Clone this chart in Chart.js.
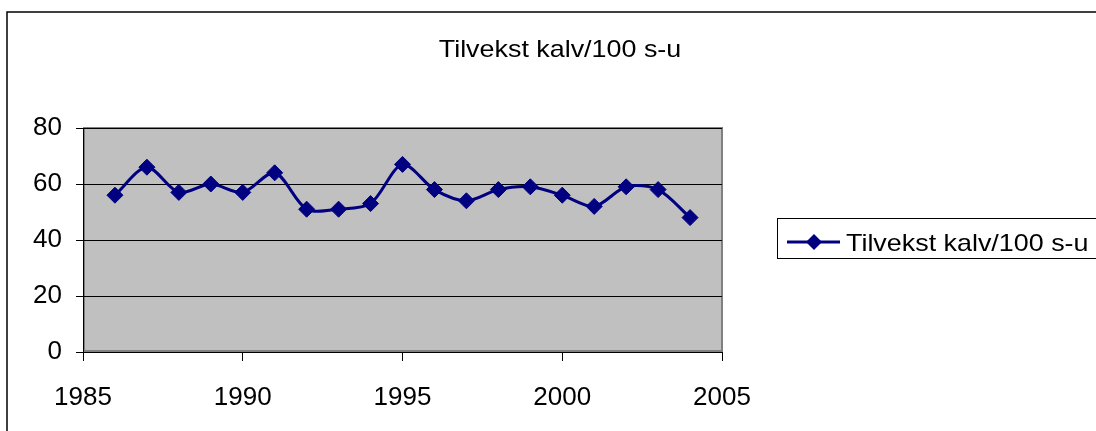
<!DOCTYPE html>
<html>
<head>
<meta charset="utf-8">
<script src="https://cdn.jsdelivr.net/npm/chart.js@4.4.1/dist/chart.umd.min.js"></script>
<style>
  html, body { margin: 0; padding: 0; background: #fff; }
  #kalv { display: block; }
</style>
</head>
<body>
<canvas id="kalv" width="1096" height="431"></canvas>
<script>
const years = [1986, 1987, 1988, 1989, 1990, 1991, 1992, 1993, 1994, 1995,
               1996, 1997, 1998, 1999, 2000, 2001, 2002, 2003, 2004]
const tilvekst = [56, 66, 57, 60, 57, 64, 51, 51, 53, 67,
                  58, 54, 58, 59, 56, 52, 59, 58, 48]
const seriesName = "Tilvekst kalv/100 s-u"
const chartTitle = "Tilvekst kalv/100 s-u"

const fontFam = "'Liberation Sans', Arial, sans-serif"
const navy = "#000080"

// excel-ish frame, grey plot area, title + boxed legend
const excelBits = {
  id: "excelBits",
  beforeDraw(chart) {
    const ctx = chart.ctx
    const a = chart.chartArea
    ctx.save()
    ctx.strokeStyle = "#000"
    ctx.lineWidth = 1.5
    ctx.strokeRect(7, 12, 1200, 600)
    ctx.fillStyle = "#c0c0c0"
    ctx.fillRect(a.left, a.top, a.right - a.left, a.bottom - a.top)
    ctx.strokeStyle = "#808080"
    ctx.lineWidth = 2
    ctx.strokeRect(a.left + 1, a.top, a.right - a.left - 1, a.bottom - a.top - 1)
    ctx.restore()
  },
  afterDraw(chart) {
    const ctx = chart.ctx
    ctx.save()
    ctx.fillStyle = "#000"
    ctx.font = "24px " + fontFam
    ctx.textBaseline = "alphabetic"
    // title (source picture is stretched sideways a bit)
    ctx.save()
    ctx.translate(560, 57)
    ctx.scale(1.12, 1)
    ctx.textAlign = "center"
    ctx.fillText(chartTitle, 0, 0)
    ctx.restore()

    // legend box
    ctx.strokeStyle = "#000"
    ctx.lineWidth = 1
    ctx.strokeRect(777.5, 218.5, 400, 40)
    ctx.strokeStyle = navy
    ctx.lineWidth = 3
    ctx.beginPath()
    ctx.moveTo(787, 242)
    ctx.lineTo(840, 242)
    ctx.stroke()
    ctx.fillStyle = navy
    ctx.beginPath()
    ctx.moveTo(814, 234)
    ctx.lineTo(822, 242)
    ctx.lineTo(814, 250)
    ctx.lineTo(806, 242)
    ctx.closePath()
    ctx.fill()
    ctx.fillStyle = "#000"
    ctx.save()
    ctx.translate(846, 251)
    ctx.scale(1.12, 1)
    ctx.textAlign = "left"
    ctx.fillText(seriesName, 0, 0)
    ctx.restore()
    ctx.restore()
  }
}

const chart = new Chart(document.getElementById("kalv"), {
  type: "line",
  data: {
    labels: years,
    datasets: [{
      label: seriesName,
      data: years.map((y, i) => ({ x: y, y: tilvekst[i] })),
      borderColor: navy,
      backgroundColor: navy,
      borderWidth: 3,
      tension: 0.3,
      pointStyle: "rectRot",
      pointRadius: 8,
      pointBackgroundColor: navy,
      pointBorderColor: navy,
      pointBorderWidth: 1
    }]
  },
  options: {
    responsive: false,
    animation: false,
    events: [],
    layout: { padding: { left: 0, top: 128, right: 374, bottom: 0 } },
    plugins: {
      legend: { display: false },
      title: { display: false },
      tooltip: { enabled: false }
    },
    scales: {
      x: {
        type: "linear",
        min: 1985,
        max: 2005,
        afterFit: s => { s.height = 79 },
        ticks: {
          stepSize: 5,
          color: "#000",
          padding: 21,
          maxRotation: 0,
          font: { family: fontFam, size: 26 },
          callback: v => String(v)
        },
        grid: { drawOnChartArea: false, color: "#000", tickLength: 9 },
        border: { display: true, color: "#000", width: 1 }
      },
      y: {
        min: 0,
        max: 80,
        afterFit: s => { s.width = 83 },
        ticks: {
          stepSize: 20,
          color: "#000",
          padding: 14,
          font: { family: fontFam, size: 26 }
        },
        grid: { color: "#000", lineWidth: 1, tickLength: 7 },
        border: { display: true, color: "#000", width: 1 }
      }
    }
  },
  plugins: [excelBits]
})
</script>
</body>
</html>
